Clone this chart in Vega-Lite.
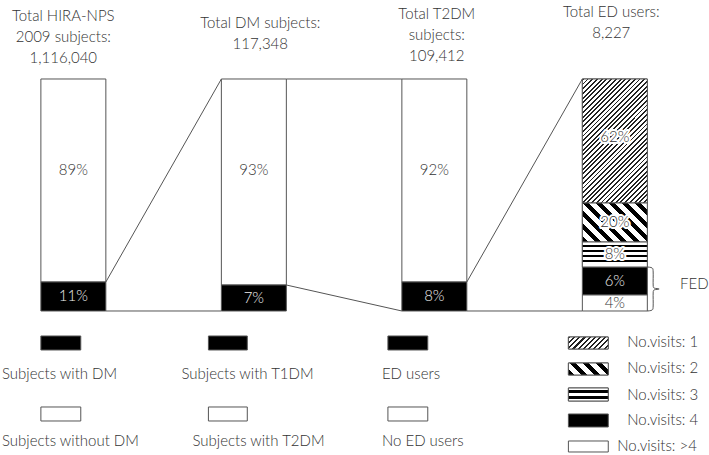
{
"width": 709, "height": 455,
"autosize": {"type": "fit", "contains": "padding"},
"padding": 0,
"background": "white",
"config": {"view": {"stroke": null}, "text": {"font": "Lato", "fontSize": 15, "fontWeight": 300, "color": "#333"}},
"datasets": {
"seg": [
{"bar": "HIRA-NPS", "x0": 0, "x1": 0.36, "y0": 12.5, "y1": 100, "pattern": "empty", "label": "89%", "ly": 60.8},
{"bar": "HIRA-NPS", "x0": 0, "x1": 0.36, "y0": 0, "y1": 12.5, "pattern": "solid", "label": "11%", "ly": 6.25},
{"bar": "DM", "x0": 1, "x1": 1.36, "y0": 11.2, "y1": 100, "pattern": "empty", "label": "93%", "ly": 60.8},
{"bar": "DM", "x0": 1, "x1": 1.36, "y0": 0, "y1": 11.2, "pattern": "solid", "label": "7%", "ly": 5.6},
{"bar": "T2DM", "x0": 2, "x1": 2.36, "y0": 12.5, "y1": 100, "pattern": "empty", "label": "92%", "ly": 60.8},
{"bar": "T2DM", "x0": 2, "x1": 2.36, "y0": 0, "y1": 12.5, "pattern": "solid", "label": "8%", "ly": 6.25},
{"bar": "ED", "x0": 3, "x1": 3.36, "y0": 46.55, "y1": 100, "pattern": "hatch", "label": "62%", "ly": 75},
{"bar": "ED", "x0": 3, "x1": 3.36, "y0": 29.74, "y1": 46.55, "pattern": "bold hatch", "label": "20%", "ly": 38.5},
{"bar": "ED", "x0": 3, "x1": 3.36, "y0": 18.97, "y1": 29.74, "pattern": "lines", "label": "8%", "ly": 24.6},
{"bar": "ED", "x0": 3, "x1": 3.36, "y0": 6.9, "y1": 18.97, "pattern": "solid", "label": "6%", "ly": 12.9},
{"bar": "ED", "x0": 3, "x1": 3.36, "y0": 0, "y1": 6.9, "pattern": "empty", "label": "4%", "ly": 3.5}
],
"links": [
{"x0": 0.36, "y0": 12.5, "x1": 1, "y1": 100},
{"x0": 0.36, "y0": 0, "x1": 1, "y1": 0},
{"x0": 1.36, "y0": 100, "x1": 2, "y1": 100},
{"x0": 1.36, "y0": 11.2, "x1": 2, "y1": 0},
{"x0": 2.36, "y0": 12.5, "x1": 3, "y1": 100},
{"x0": 2.36, "y0": 0, "x1": 3, "y1": 0}
],
"key": [
{"x0": 0, "x1": 0.221, "y0": -16.81, "y1": -10.776, "pattern": "solid", "text": "Subjects with DM", "tx": -0.2155, "ty": -27.155},
{"x0": 0, "x1": 0.221, "y0": -47.414, "y1": -41.379, "pattern": "empty", "text": "Subjects without DM", "tx": -0.2155, "ty": -56.034},
{"x0": 0.9282, "x1": 1.1436, "y0": -16.81, "y1": -10.776, "pattern": "solid", "text": "Subjects with T1DM", "tx": 0.779, "ty": -27.155},
{"x0": 0.9282, "x1": 1.1436, "y0": -47.414, "y1": -41.379, "pattern": "empty", "text": "Subjects with T2DM", "tx": 0.8398, "ty": -56.034},
{"x0": 1.9227, "x1": 2.1436, "y0": -16.81, "y1": -10.776, "pattern": "solid", "text": "ED users", "tx": 1.8895, "ty": -27.155},
{"x0": 1.9227, "x1": 2.1436, "y0": -47.414, "y1": -41.379, "pattern": "empty", "text": "No ED users", "tx": 1.8895, "ty": -56.034},
{"x0": 2.9227, "x1": 3.1436, "y0": -16.379, "y1": -11.207, "pattern": "hatch", "text": "No.visits: 1", "tx": 3.2486, "ty": -13.362},
{"x0": 2.9227, "x1": 3.1436, "y0": -27.586, "y1": -22.414, "pattern": "bold hatch", "text": "No.visits: 2", "tx": 3.2486, "ty": -24.569},
{"x0": 2.9227, "x1": 3.1436, "y0": -38.793, "y1": -33.19, "pattern": "lines", "text": "No.visits: 3", "tx": 3.2486, "ty": -36.207},
{"x0": 2.9227, "x1": 3.1436, "y0": -50.0, "y1": -44.397, "pattern": "solid", "text": "No.visits: 4", "tx": 3.2486, "ty": -46.983},
{"x0": 2.9227, "x1": 3.1436, "y0": -60.776, "y1": -56.034, "pattern": "empty", "text": "No.visits: >4", "tx": 3.1934, "ty": -58.19}
],
"titles": [
{"text": "Total HIRA-NPS", "tx": 0.1243, "ty": 127.155},
{"text": "2009 subjects:", "tx": 0.1243, "ty": 118.103},
{"text": "1,116,040", "tx": 0.1243, "ty": 109.052},
{"text": "Total DM subjects:", "tx": 1.2155, "ty": 124.138},
{"text": "117,348", "tx": 1.2155, "ty": 115.086},
{"text": "Total T2DM", "tx": 2.1934, "ty": 128.017},
{"text": "subjects:", "tx": 2.1934, "ty": 118.966},
{"text": "109,412", "tx": 2.1934, "ty": 109.914},
{"text": "Total ED users:", "tx": 3.1602, "ty": 128.879},
{"text": "8,227", "tx": 3.1602, "ty": 119.828}
],
"brace": [
{"seq": 0, "x": 3.3591, "y": 18.966},
{"seq": 1, "x": 3.3867, "y": 18.534},
{"seq": 2, "x": 3.3923, "y": 16.81},
{"seq": 3, "x": 3.3923, "y": 11.207},
{"seq": 4, "x": 3.3978, "y": 9.914},
{"seq": 5, "x": 3.4254, "y": 9.483},
{"seq": 6, "x": 3.3978, "y": 9.052},
{"seq": 7, "x": 3.3923, "y": 7.759},
{"seq": 8, "x": 3.3923, "y": 2.155},
{"seq": 9, "x": 3.3867, "y": 0.431},
{"seq": 10, "x": 3.3591, "y": 0}
],
"notes": [{"text": "FED", "tx": 3.5414, "ty": 11.638}]
},
"layer": [
{
"data": {"name": "seg"},
"mark": {"type": "rect", "stroke": "#555", "strokeWidth": 1},
"encoding": {
"x": {"field": "x0", "type": "quantitative", "scale": {"domain": [-0.2265, 3.6906], "nice": false, "zero": false}, "axis": null},
"x2": {"field": "x1"},
"y": {"field": "y0", "type": "quantitative", "scale": {"domain": [-62.07, 134.05], "nice": false, "zero": false}, "axis": null},
"y2": {"field": "y1"},
"fill": {"field": "pattern", "type": "nominal", "scale": {"domain": ["solid", "empty", "hatch", "bold hatch", "lines"], "range": ["#000000", "#ffffff", "#ffffff", "#ffffff", "#ffffff"]}, "legend": null}
}
},
{
"data": {"name": "seg"},
"transform": [{"filter": "datum.pattern === 'hatch'"}],
"mark": {"type": "rect", "stroke": "#555", "strokeWidth": 1, "fill": {"gradient": "linear", "x1": 0, "y1": 0, "x2": 0.6268, "y2": 1.1957, "stops": [
{"offset":0,"color":"#222"},{"offset":0.01,"color":"#222"},{"offset":0.01,"color":"#fff"},{"offset":0.025,"color":"#fff"},
{"offset":0.025,"color":"#222"},{"offset":0.035,"color":"#222"},{"offset":0.035,"color":"#fff"},{"offset":0.05,"color":"#fff"},
{"offset":0.05,"color":"#222"},{"offset":0.06,"color":"#222"},{"offset":0.06,"color":"#fff"},{"offset":0.075,"color":"#fff"},
{"offset":0.075,"color":"#222"},{"offset":0.085,"color":"#222"},{"offset":0.085,"color":"#fff"},{"offset":0.1,"color":"#fff"},
{"offset":0.1,"color":"#222"},{"offset":0.11,"color":"#222"},{"offset":0.11,"color":"#fff"},{"offset":0.125,"color":"#fff"},
{"offset":0.125,"color":"#222"},{"offset":0.135,"color":"#222"},{"offset":0.135,"color":"#fff"},{"offset":0.15,"color":"#fff"},
{"offset":0.15,"color":"#222"},{"offset":0.16,"color":"#222"},{"offset":0.16,"color":"#fff"},{"offset":0.175,"color":"#fff"},
{"offset":0.175,"color":"#222"},{"offset":0.185,"color":"#222"},{"offset":0.185,"color":"#fff"},{"offset":0.2,"color":"#fff"},
{"offset":0.2,"color":"#222"},{"offset":0.21,"color":"#222"},{"offset":0.21,"color":"#fff"},{"offset":0.225,"color":"#fff"},
{"offset":0.225,"color":"#222"},{"offset":0.235,"color":"#222"},{"offset":0.235,"color":"#fff"},{"offset":0.25,"color":"#fff"},
{"offset":0.25,"color":"#222"},{"offset":0.26,"color":"#222"},{"offset":0.26,"color":"#fff"},{"offset":0.275,"color":"#fff"},
{"offset":0.275,"color":"#222"},{"offset":0.285,"color":"#222"},{"offset":0.285,"color":"#fff"},{"offset":0.3,"color":"#fff"},
{"offset":0.3,"color":"#222"},{"offset":0.31,"color":"#222"},{"offset":0.31,"color":"#fff"},{"offset":0.325,"color":"#fff"},
{"offset":0.325,"color":"#222"},{"offset":0.335,"color":"#222"},{"offset":0.335,"color":"#fff"},{"offset":0.35,"color":"#fff"},
{"offset":0.35,"color":"#222"},{"offset":0.36,"color":"#222"},{"offset":0.36,"color":"#fff"},{"offset":0.375,"color":"#fff"},
{"offset":0.375,"color":"#222"},{"offset":0.385,"color":"#222"},{"offset":0.385,"color":"#fff"},{"offset":0.4,"color":"#fff"},
{"offset":0.4,"color":"#222"},{"offset":0.41,"color":"#222"},{"offset":0.41,"color":"#fff"},{"offset":0.425,"color":"#fff"},
{"offset":0.425,"color":"#222"},{"offset":0.435,"color":"#222"},{"offset":0.435,"color":"#fff"},{"offset":0.45,"color":"#fff"},
{"offset":0.45,"color":"#222"},{"offset":0.46,"color":"#222"},{"offset":0.46,"color":"#fff"},{"offset":0.475,"color":"#fff"},
{"offset":0.475,"color":"#222"},{"offset":0.485,"color":"#222"},{"offset":0.485,"color":"#fff"},{"offset":0.5,"color":"#fff"},
{"offset":0.5,"color":"#222"},{"offset":0.51,"color":"#222"},{"offset":0.51,"color":"#fff"},{"offset":0.525,"color":"#fff"},
{"offset":0.525,"color":"#222"},{"offset":0.535,"color":"#222"},{"offset":0.535,"color":"#fff"},{"offset":0.55,"color":"#fff"},
{"offset":0.55,"color":"#222"},{"offset":0.56,"color":"#222"},{"offset":0.56,"color":"#fff"},{"offset":0.575,"color":"#fff"},
{"offset":0.575,"color":"#222"},{"offset":0.585,"color":"#222"},{"offset":0.585,"color":"#fff"},{"offset":0.6,"color":"#fff"},
{"offset":0.6,"color":"#222"},{"offset":0.61,"color":"#222"},{"offset":0.61,"color":"#fff"},{"offset":0.625,"color":"#fff"},
{"offset":0.625,"color":"#222"},{"offset":0.635,"color":"#222"},{"offset":0.635,"color":"#fff"},{"offset":0.65,"color":"#fff"},
{"offset":0.65,"color":"#222"},{"offset":0.66,"color":"#222"},{"offset":0.66,"color":"#fff"},{"offset":0.675,"color":"#fff"},
{"offset":0.675,"color":"#222"},{"offset":0.685,"color":"#222"},{"offset":0.685,"color":"#fff"},{"offset":0.7,"color":"#fff"},
{"offset":0.7,"color":"#222"},{"offset":0.71,"color":"#222"},{"offset":0.71,"color":"#fff"},{"offset":0.725,"color":"#fff"},
{"offset":0.725,"color":"#222"},{"offset":0.735,"color":"#222"},{"offset":0.735,"color":"#fff"},{"offset":0.75,"color":"#fff"},
{"offset":0.75,"color":"#222"},{"offset":0.76,"color":"#222"},{"offset":0.76,"color":"#fff"},{"offset":0.775,"color":"#fff"},
{"offset":0.775,"color":"#222"},{"offset":0.785,"color":"#222"},{"offset":0.785,"color":"#fff"},{"offset":0.8,"color":"#fff"},
{"offset":0.8,"color":"#222"},{"offset":0.81,"color":"#222"},{"offset":0.81,"color":"#fff"},{"offset":0.825,"color":"#fff"},
{"offset":0.825,"color":"#222"},{"offset":0.835,"color":"#222"},{"offset":0.835,"color":"#fff"},{"offset":0.85,"color":"#fff"},
{"offset":0.85,"color":"#222"},{"offset":0.86,"color":"#222"},{"offset":0.86,"color":"#fff"},{"offset":0.875,"color":"#fff"},
{"offset":0.875,"color":"#222"},{"offset":0.885,"color":"#222"},{"offset":0.885,"color":"#fff"},{"offset":0.9,"color":"#fff"},
{"offset":0.9,"color":"#222"},{"offset":0.91,"color":"#222"},{"offset":0.91,"color":"#fff"},{"offset":0.925,"color":"#fff"},
{"offset":0.925,"color":"#222"},{"offset":0.935,"color":"#222"},{"offset":0.935,"color":"#fff"},{"offset":0.95,"color":"#fff"},
{"offset":0.95,"color":"#222"},{"offset":0.96,"color":"#222"},{"offset":0.96,"color":"#fff"},{"offset":0.975,"color":"#fff"},
{"offset":0.975,"color":"#222"},{"offset":0.985,"color":"#222"},{"offset":0.985,"color":"#fff"},{"offset":1,"color":"#fff"}
]}},
"encoding": {
"x": {"field": "x0", "type": "quantitative", "scale": {"domain": [-0.2265, 3.6906], "nice": false, "zero": false}, "axis": null},
"x2": {"field": "x1"},
"y": {"field": "y0", "type": "quantitative", "scale": {"domain": [-62.07, 134.05], "nice": false, "zero": false}, "axis": null},
"y2": {"field": "y1"}
}
},
{
"data": {"name": "seg"},
"transform": [{"filter": "datum.pattern === 'bold hatch'"}],
"mark": {"type": "rect", "stroke": "#555", "strokeWidth": 1, "fill": {"gradient": "linear", "x1": 0, "y1": 1, "x2": 1.1765, "y2": 0.2941, "stops": [
{"offset":0,"color":"#000"},{"offset":0.0625,"color":"#000"},{"offset":0.0625,"color":"#fff"},{"offset":0.125,"color":"#fff"},
{"offset":0.125,"color":"#000"},{"offset":0.1875,"color":"#000"},{"offset":0.1875,"color":"#fff"},{"offset":0.25,"color":"#fff"},
{"offset":0.25,"color":"#000"},{"offset":0.3125,"color":"#000"},{"offset":0.3125,"color":"#fff"},{"offset":0.375,"color":"#fff"},
{"offset":0.375,"color":"#000"},{"offset":0.4375,"color":"#000"},{"offset":0.4375,"color":"#fff"},{"offset":0.5,"color":"#fff"},
{"offset":0.5,"color":"#000"},{"offset":0.5625,"color":"#000"},{"offset":0.5625,"color":"#fff"},{"offset":0.625,"color":"#fff"},
{"offset":0.625,"color":"#000"},{"offset":0.6875,"color":"#000"},{"offset":0.6875,"color":"#fff"},{"offset":0.75,"color":"#fff"},
{"offset":0.75,"color":"#000"},{"offset":0.8125,"color":"#000"},{"offset":0.8125,"color":"#fff"},{"offset":0.875,"color":"#fff"},
{"offset":0.875,"color":"#000"},{"offset":0.9375,"color":"#000"},{"offset":0.9375,"color":"#fff"},{"offset":1,"color":"#fff"}
]}},
"encoding": {
"x": {"field": "x0", "type": "quantitative", "scale": {"domain": [-0.2265, 3.6906], "nice": false, "zero": false}, "axis": null},
"x2": {"field": "x1"},
"y": {"field": "y0", "type": "quantitative", "scale": {"domain": [-62.07, 134.05], "nice": false, "zero": false}, "axis": null},
"y2": {"field": "y1"}
}
},
{
"data": {"name": "seg"},
"transform": [{"filter": "datum.pattern === 'lines'"}],
"mark": {"type": "rect", "stroke": "#555", "strokeWidth": 1, "fill": {"gradient": "linear", "x1": 0, "y1": 0, "x2": 0, "y2": 1, "stops": [
{"offset":0,"color":"#fff"},{"offset":0.12,"color":"#fff"},{"offset":0.12,"color":"#000"},{"offset":0.22,"color":"#000"},
{"offset":0.22,"color":"#fff"},{"offset":0.32,"color":"#fff"},{"offset":0.32,"color":"#000"},{"offset":0.42,"color":"#000"},
{"offset":0.42,"color":"#fff"},{"offset":0.52,"color":"#fff"},{"offset":0.52,"color":"#000"},{"offset":0.62,"color":"#000"},
{"offset":0.62,"color":"#fff"},{"offset":0.72,"color":"#fff"},{"offset":0.72,"color":"#000"},{"offset":0.82,"color":"#000"},
{"offset":0.82,"color":"#fff"},{"offset":1,"color":"#fff"}
]}},
"encoding": {
"x": {"field": "x0", "type": "quantitative", "scale": {"domain": [-0.2265, 3.6906], "nice": false, "zero": false}, "axis": null},
"x2": {"field": "x1"},
"y": {"field": "y0", "type": "quantitative", "scale": {"domain": [-62.07, 134.05], "nice": false, "zero": false}, "axis": null},
"y2": {"field": "y1"}
}
},
{
"data": {"name": "links"},
"mark": {"type": "rule", "stroke": "#555", "strokeWidth": 1},
"encoding": {
"x": {"field": "x0", "type": "quantitative", "scale": {"domain": [-0.2265, 3.6906], "nice": false, "zero": false}, "axis": null},
"x2": {"field": "x1"},
"y": {"field": "y0", "type": "quantitative", "scale": {"domain": [-62.07, 134.05], "nice": false, "zero": false}, "axis": null},
"y2": {"field": "y1"}
}
},
{
"data": {"name": "seg"},
"transform": [{"filter": "datum.pattern === 'solid'"}],
"mark": {"type": "text", "dx": 32.5, "color": "#eee"},
"encoding": {
"x": {"field": "x0", "type": "quantitative", "scale": {"domain": [-0.2265, 3.6906], "nice": false, "zero": false}, "axis": null},
"y": {"field": "ly", "type": "quantitative", "scale": {"domain": [-62.07, 134.05], "nice": false, "zero": false}, "axis": null},
"text": {"field": "label"}
}
},
{
"data": {"name": "seg"},
"transform": [{"filter": "datum.pattern === 'hatch' || datum.pattern === 'bold hatch' || datum.pattern === 'lines'"}],
"mark": {"type": "text", "dx": 32.5, "color": "#fff", "stroke": "#fff", "strokeWidth": 4, "strokeJoin": "round"},
"encoding": {
"x": {"field": "x0", "type": "quantitative", "scale": {"domain": [-0.2265, 3.6906], "nice": false, "zero": false}, "axis": null},
"y": {"field": "ly", "type": "quantitative", "scale": {"domain": [-62.07, 134.05], "nice": false, "zero": false}, "axis": null},
"text": {"field": "label"}
}
},
{
"data": {"name": "seg"},
"transform": [{"filter": "datum.pattern !== 'solid'"}],
"mark": {"type": "text", "dx": 32.5, "color": "#333"},
"encoding": {
"x": {"field": "x0", "type": "quantitative", "scale": {"domain": [-0.2265, 3.6906], "nice": false, "zero": false}, "axis": null},
"y": {"field": "ly", "type": "quantitative", "scale": {"domain": [-62.07, 134.05], "nice": false, "zero": false}, "axis": null},
"text": {"field": "label"}
}
},
{
"data": {"name": "key"},
"mark": {"type": "rect", "stroke": "#555", "strokeWidth": 1},
"encoding": {
"x": {"field": "x0", "type": "quantitative", "scale": {"domain": [-0.2265, 3.6906], "nice": false, "zero": false}, "axis": null},
"x2": {"field": "x1"},
"y": {"field": "y0", "type": "quantitative", "scale": {"domain": [-62.07, 134.05], "nice": false, "zero": false}, "axis": null},
"y2": {"field": "y1"},
"fill": {"field": "pattern", "type": "nominal", "scale": {"domain": ["solid", "empty", "hatch", "bold hatch", "lines"], "range": ["#000000", "#ffffff", "#ffffff", "#ffffff", "#ffffff"]}, "legend": null}
}
},
{
"data": {"name": "key"},
"transform": [{"filter": "datum.pattern === 'hatch'"}],
"mark": {"type": "rect", "stroke": "#555", "strokeWidth": 1, "fill": {"gradient": "linear", "x1": 0, "y1": 0, "x2": 1.1927, "y2": 0.3578, "stops": [
{"offset":0,"color":"#222"},{"offset":0.04,"color":"#222"},{"offset":0.04,"color":"#fff"},{"offset":0.1,"color":"#fff"},
{"offset":0.1,"color":"#222"},{"offset":0.14,"color":"#222"},{"offset":0.14,"color":"#fff"},{"offset":0.2,"color":"#fff"},
{"offset":0.2,"color":"#222"},{"offset":0.24,"color":"#222"},{"offset":0.24,"color":"#fff"},{"offset":0.3,"color":"#fff"},
{"offset":0.3,"color":"#222"},{"offset":0.34,"color":"#222"},{"offset":0.34,"color":"#fff"},{"offset":0.4,"color":"#fff"},
{"offset":0.4,"color":"#222"},{"offset":0.44,"color":"#222"},{"offset":0.44,"color":"#fff"},{"offset":0.5,"color":"#fff"},
{"offset":0.5,"color":"#222"},{"offset":0.54,"color":"#222"},{"offset":0.54,"color":"#fff"},{"offset":0.6,"color":"#fff"},
{"offset":0.6,"color":"#222"},{"offset":0.64,"color":"#222"},{"offset":0.64,"color":"#fff"},{"offset":0.7,"color":"#fff"},
{"offset":0.7,"color":"#222"},{"offset":0.74,"color":"#222"},{"offset":0.74,"color":"#fff"},{"offset":0.8,"color":"#fff"},
{"offset":0.8,"color":"#222"},{"offset":0.84,"color":"#222"},{"offset":0.84,"color":"#fff"},{"offset":0.9,"color":"#fff"},
{"offset":0.9,"color":"#222"},{"offset":0.94,"color":"#222"},{"offset":0.94,"color":"#fff"},{"offset":1,"color":"#fff"}
]}},
"encoding": {
"x": {"field": "x0", "type": "quantitative", "scale": {"domain": [-0.2265, 3.6906], "nice": false, "zero": false}, "axis": null},
"x2": {"field": "x1"},
"y": {"field": "y0", "type": "quantitative", "scale": {"domain": [-62.07, 134.05], "nice": false, "zero": false}, "axis": null},
"y2": {"field": "y1"}
}
},
{
"data": {"name": "key"},
"transform": [{"filter": "datum.pattern === 'bold hatch'"}],
"mark": {"type": "rect", "stroke": "#555", "strokeWidth": 1, "fill": {"gradient": "linear", "x1": 0, "y1": 1, "x2": 1.1927, "y2": 0.6422, "stops": [
{"offset":0,"color":"#000"},{"offset":0.125,"color":"#000"},{"offset":0.125,"color":"#fff"},{"offset":0.25,"color":"#fff"},
{"offset":0.25,"color":"#000"},{"offset":0.375,"color":"#000"},{"offset":0.375,"color":"#fff"},{"offset":0.5,"color":"#fff"},
{"offset":0.5,"color":"#000"},{"offset":0.625,"color":"#000"},{"offset":0.625,"color":"#fff"},{"offset":0.75,"color":"#fff"},
{"offset":0.75,"color":"#000"},{"offset":0.875,"color":"#000"},{"offset":0.875,"color":"#fff"},{"offset":1,"color":"#fff"}
]}},
"encoding": {
"x": {"field": "x0", "type": "quantitative", "scale": {"domain": [-0.2265, 3.6906], "nice": false, "zero": false}, "axis": null},
"x2": {"field": "x1"},
"y": {"field": "y0", "type": "quantitative", "scale": {"domain": [-62.07, 134.05], "nice": false, "zero": false}, "axis": null},
"y2": {"field": "y1"}
}
},
{
"data": {"name": "key"},
"transform": [{"filter": "datum.pattern === 'lines'"}],
"mark": {"type": "rect", "stroke": "#555", "strokeWidth": 1, "fill": {"gradient": "linear", "x1": 0, "y1": 0, "x2": 0, "y2": 1, "stops": [
{"offset":0,"color":"#fff"},{"offset":0.18,"color":"#fff"},{"offset":0.18,"color":"#000"},{"offset":0.4,"color":"#000"},
{"offset":0.4,"color":"#fff"},{"offset":0.6,"color":"#fff"},{"offset":0.6,"color":"#000"},{"offset":0.82,"color":"#000"},
{"offset":0.82,"color":"#fff"},{"offset":1,"color":"#fff"}
]}},
"encoding": {
"x": {"field": "x0", "type": "quantitative", "scale": {"domain": [-0.2265, 3.6906], "nice": false, "zero": false}, "axis": null},
"x2": {"field": "x1"},
"y": {"field": "y0", "type": "quantitative", "scale": {"domain": [-62.07, 134.05], "nice": false, "zero": false}, "axis": null},
"y2": {"field": "y1"}
}
},
{
"data": {"name": "key"},
"mark": {"type": "text", "align": "left", "color": "#333"},
"encoding": {
"x": {"field": "tx", "type": "quantitative", "scale": {"domain": [-0.2265, 3.6906], "nice": false, "zero": false}, "axis": null},
"y": {"field": "ty", "type": "quantitative", "scale": {"domain": [-62.07, 134.05], "nice": false, "zero": false}, "axis": null},
"text": {"field": "text"}
}
},
{
"data": {"name": "titles"},
"mark": {"type": "text", "align": "center", "color": "#333"},
"encoding": {
"x": {"field": "tx", "type": "quantitative", "scale": {"domain": [-0.2265, 3.6906], "nice": false, "zero": false}, "axis": null},
"y": {"field": "ty", "type": "quantitative", "scale": {"domain": [-62.07, 134.05], "nice": false, "zero": false}, "axis": null},
"text": {"field": "text"}
}
},
{
"data": {"name": "brace"},
"mark": {"type": "line", "stroke": "#555", "strokeWidth": 1, "interpolate": "cardinal"},
"encoding": {
"x": {"field": "x", "type": "quantitative", "scale": {"domain": [-0.2265, 3.6906], "nice": false, "zero": false}, "axis": null},
"y": {"field": "y", "type": "quantitative", "scale": {"domain": [-62.07, 134.05], "nice": false, "zero": false}, "axis": null},
"order": {"field": "seq", "type": "quantitative"}
}
},
{
"data": {"name": "notes"},
"mark": {"type": "text", "align": "left", "color": "#333"},
"encoding": {
"x": {"field": "tx", "type": "quantitative", "scale": {"domain": [-0.2265, 3.6906], "nice": false, "zero": false}, "axis": null},
"y": {"field": "ty", "type": "quantitative", "scale": {"domain": [-62.07, 134.05], "nice": false, "zero": false}, "axis": null},
"text": {"field": "text"}
}
}
]
}
